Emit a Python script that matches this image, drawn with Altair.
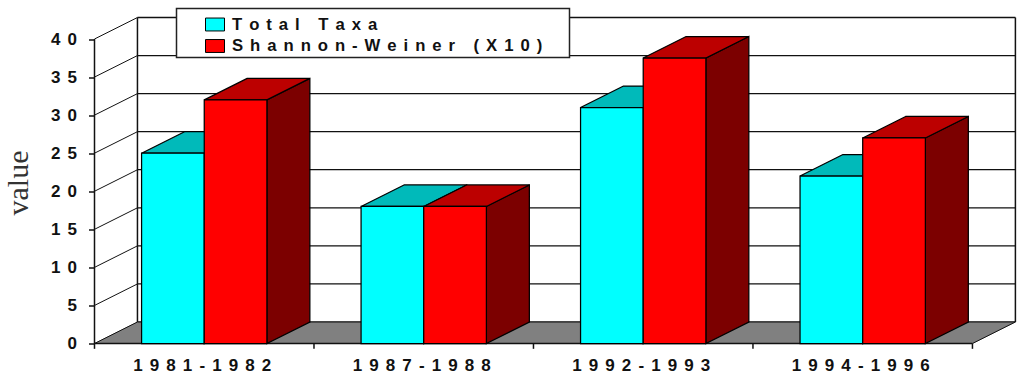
import altair as alt
import pandas as pd

# Survey periods and their measured values
periods = ["1981-1982", "1987-1988", "1992-1993", "1994-1996"]
total_taxa = [25, 18, 31, 22]
shannon_weiner = [32, 18, 37.5, 27]
series_names = ["Total Taxa", "Shannon-Weiner (X10)"]
y_ticks = [0, 5, 10, 15, 20, 25, 30, 35, 40]

# Extrusion of the 3D box, in data units of each axis
DX = 0.1957
DY = 2.825
BAR = 0.2855

x_scale = alt.Scale(domain=[0, 4 + DX + 0.005], nice=False, zero=False)
y_scale = alt.Scale(domain=[0, 40 + DY], nice=False, zero=False)
INK = "#111111"
SPACED = "join(split({}, ''), '\u2004\u200a')"

label_list = "[" + ",".join(f"'{p}'" for p in periods) + "]"
front_axis_x = alt.Axis(
    values=[0.5, 1.5, 2.5, 3.5],
    domain=False,
    ticks=False,
    grid=False,
    title=None,
    labelExpr=SPACED.format(f"{label_list}[floor(datum.value)]"),
    labelFont="Liberation Sans",
    labelFontWeight="bold",
    labelFontSize=17,
    labelColor=INK,
    labelPadding=14,
    labelOffset=-2.5,
    labelFlush=False,
    labelOverlap=False,
)
front_axis_y = alt.Axis(
    values=y_ticks,
    domain=False,
    tickSize=6,
    tickColor=INK,
    tickWidth=1.5,
    grid=False,
    title="value",
    titleFont="Liberation Serif",
    titleFontSize=30,
    titleFontWeight="normal",
    titleColor="#333333",
    titleX=-61,
    titleY=165,
    labelExpr=SPACED.format("datum.label"),
    labelFont="Liberation Sans",
    labelFontWeight="bold",
    labelFontSize=17,
    labelColor=INK,
    labelPadding=12,
)


def X(field="x"):
    return alt.X(f"{field}:Q", scale=x_scale, axis=front_axis_x)


def Y(field="y"):
    return alt.Y(f"{field}:Q", scale=y_scale, axis=front_axis_y)


# One row per bar, with the corners of its front face
bars = []
for i, period in enumerate(periods):
    for j, (name, vals) in enumerate(zip(series_names, (total_taxa, shannon_weiner))):
        left = i + 0.5 - BAR + j * BAR
        bars.append(dict(id=f"{i}-{j}", series=name, x0=left, x1=left + BAR, v=vals[i], zero=0))
bars = pd.DataFrame(bars)

# Top face: two horizontal edges, front and back
top_rows, side_rows = [], []
for b in bars.itertuples():
    top_rows += [
        dict(id=b.id, series=b.series, y=b.v, x=b.x0, x2=b.x1),
        dict(id=b.id, series=b.series, y=b.v + DY, x=b.x0 + DX, x2=b.x1 + DX),
    ]
    # Side face: two vertical edges, front and back
    side_rows += [
        dict(id=b.id, series=b.series, x=b.x1, y=b.v, y2=0),
        dict(id=b.id, series=b.series, x=b.x1 + DX, y=b.v + DY, y2=DY),
    ]
tops = pd.DataFrame(top_rows)
sides = pd.DataFrame(side_rows)

top_colors = alt.Color("series:N", scale=alt.Scale(domain=series_names, range=["#00BABA", "#BC0000"]), legend=None)
side_colors = alt.Color("series:N", scale=alt.Scale(domain=series_names, range=["#007F7F", "#7C0000"]), legend=None)

floor = (
    alt.Chart(pd.DataFrame([dict(x=0, x2=4, y=0), dict(x=DX, x2=4 + DX, y=DY)]))
    .mark_area(orient="horizontal", color="#808080", stroke="#808080", strokeWidth=0.5)
    .encode(y=Y(), x=X(), x2="x2:Q")
)

walls = pd.DataFrame(
    [dict(x=DX, x2=4 + DX, y=v + DY, y2=v + DY, w=1.5 if v == 40 else 1.25) for v in y_ticks]
    + [dict(x=DX, x2=DX, y=DY, y2=40 + DY, w=1.5), dict(x=4 + DX, x2=4 + DX, y=DY, y2=40 + DY, w=1.5)]
    + [dict(x=0, x2=DX, y=v, y2=v + DY, w=1) for v in y_ticks]
    + [dict(x=4, x2=4 + DX, y=0, y2=DY, w=1)]
    + [dict(x=0, x2=0, y=0, y2=40, w=1.5), dict(x=0, x2=4, y=0, y2=0, w=1.5)]
)
wall_lines = (
    alt.Chart(walls)
    .mark_rule(color=INK)
    .encode(x=X(), x2="x2:Q", y=Y(), y2="y2:Q", strokeWidth=alt.StrokeWidth("w:Q", scale=None))
)

x_ticks = (
    alt.Chart(pd.DataFrame({"x": list(range(5)), "y": [0] * 5, "y2": [-0.7] * 5}))
    .mark_rule(color=INK, strokeWidth=1.5)
    .encode(x=X(), y=Y(), y2="y2:Q")
)

side_faces = (
    alt.Chart(sides)
    .mark_area(stroke="black", strokeWidth=1.25)
    .encode(x=X(), y=Y(), y2="y2:Q", detail="id:N", color=side_colors)
)
top_faces = (
    alt.Chart(tops)
    .mark_area(orient="horizontal", stroke="black", strokeWidth=1.25)
    .encode(y=Y(), x=X(), x2="x2:Q", detail="id:N", color=top_colors)
)

# Legend frame sits behind the real legend
legend_box = (
    alt.Chart(pd.DataFrame({"a": [0]}))
    .mark_rect(fill="white", stroke="#222222", strokeWidth=1.5)
    .encode(x=alt.value(82), x2=alt.value(475), y=alt.value(-9), y2=alt.value(40))
)

fronts = (
    alt.Chart(bars)
    .mark_rect(stroke="black", strokeWidth=1.25)
    .encode(
        x=X("x0"),
        x2="x1:Q",
        y=Y("v"),
        y2="zero:Q",
        color=alt.Color(
            "series:N",
            scale=alt.Scale(domain=series_names, range=["#00FFFF", "#FF0000"]),
            legend=alt.Legend(
                orient="none",
                legendX=110.5,
                legendY=-3,
                title=None,
                zindex=1,
                padding=0,
                symbolType="M-1,-0.68H1V0.68H-1Z",
                symbolSize=361,
                symbolStrokeColor="black",
                symbolStrokeWidth=1,
                labelOffset=7,
                rowPadding=2.5,
                labelExpr=SPACED.format("datum.label"),
                labelFont="Liberation Sans",
                labelFontWeight="bold",
                labelFontSize=16.7,
                labelColor=INK,
                labelLimit=0,
            ),
        ),
    )
)

chart = (
    alt.layer(floor, wall_lines, x_ticks, legend_box, side_faces, top_faces, fronts)
    .resolve_scale(color="independent")
    .properties(
        width=922,
        height=326,
        autosize="none",
        padding={"left": 94.5, "top": 17.5, "right": 1.5, "bottom": 32.5},
        background="white",
    )
    .configure_view(stroke=None)
)

chart.save("out.html", embed_options={"renderer": "svg", "actions": False})
